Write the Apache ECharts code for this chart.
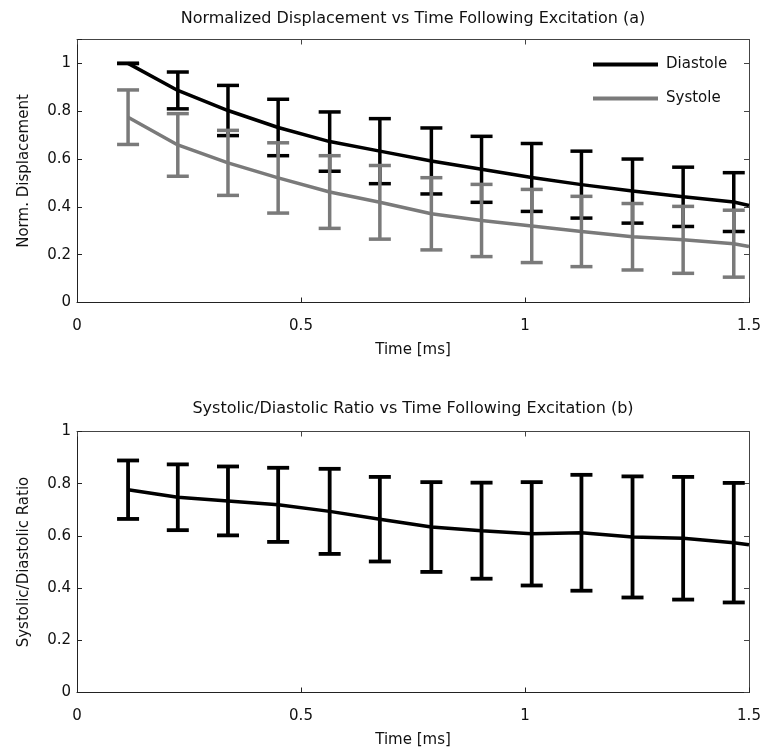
<!DOCTYPE html>
<html>
<head>
<meta charset="utf-8">
<title>Displacement vs time following excitation</title>
<script src="https://cdn.jsdelivr.net/npm/echarts@6/dist/echarts.min.js"></script>
<style>
  html, body { margin: 0; padding: 0; background: #fff; }
  #chart { width: 765px; height: 751px; }
</style>
</head>
<body>
<div id="chart"></div>
<script>
// Sample times (ms) at which displacement was measured
const time = [0.114, 0.225, 0.337, 0.449, 0.564, 0.676, 0.791, 0.903, 1.015, 1.126, 1.240, 1.353, 1.466];
// Trace values continue to the right edge of the axes
const edgeTime = 1.5;

// (a) normalized displacement, mean and standard deviation
const diastoleMean = [1.000, 0.887, 0.803, 0.732, 0.673, 0.633, 0.592, 0.557, 0.523, 0.493, 0.466, 0.442, 0.420];
const diastoleSd   = [0.000, 0.077, 0.105, 0.118, 0.124, 0.136, 0.138, 0.138, 0.142, 0.140, 0.134, 0.124, 0.123];
const diastoleEdge = 0.406;
const systoleMean  = [0.775, 0.659, 0.584, 0.521, 0.462, 0.419, 0.371, 0.343, 0.320, 0.297, 0.275, 0.262, 0.246];
const systoleSd    = [0.114, 0.131, 0.136, 0.147, 0.152, 0.154, 0.151, 0.151, 0.153, 0.147, 0.139, 0.140, 0.140];
const systoleEdge  = 0.234;

// (b) systolic / diastolic ratio, mean and standard deviation
const ratioMean = [0.777, 0.748, 0.734, 0.719, 0.694, 0.664, 0.634, 0.620, 0.608, 0.612, 0.596, 0.591, 0.574];
const ratioSd   = [0.112, 0.126, 0.132, 0.142, 0.163, 0.162, 0.172, 0.184, 0.198, 0.222, 0.232, 0.235, 0.229];
const ratioEdge = 0.566;

// Axis ticks
const xTicks = [0, 0.5, 1, 1.5];
const yTicks = [0, 0.2, 0.4, 0.6, 0.8, 1];

const FONT = 'DejaVu Sans';
const BLACK = '#000000';
const GRAY = '#7a7a7a';

function lineData(means, edge) {
  const d = time.map((t, i) => [t, means[i]]);
  d.push([edgeTime, edge]);
  return d;
}
function barData(means, sds) {
  return time.map((t, i) => [t, means[i] - sds[i], means[i] + sds[i]]);
}

// Vertical bar with horizontal caps at both ends
function errorBars(color, capHalf, width) {
  return function (params, api) {
    const x = api.value(0);
    const lo = api.coord([x, api.value(1)]);
    const hi = api.coord([x, api.value(2)]);
    const style = { stroke: color, lineWidth: width, lineCap: 'butt' };
    return {
      type: 'group',
      children: [
        { type: 'line', shape: { x1: hi[0], y1: hi[1], x2: lo[0], y2: lo[1] }, style: style },
        { type: 'line', shape: { x1: hi[0] - capHalf, y1: hi[1], x2: hi[0] + capHalf, y2: hi[1] }, style: style },
        { type: 'line', shape: { x1: lo[0] - capHalf, y1: lo[1], x2: lo[0] + capHalf, y2: lo[1] }, style: style }
      ]
    };
  };
}

const labelStyle = { fontFamily: FONT, fontSize: 15, color: '#111' };

function xAxes(gridIndex) {
  return [
    {
      type: 'value', gridIndex: gridIndex, position: 'bottom',
      min: 0, max: 1.5, interval: 0.5,
      name: 'Time [ms]', nameLocation: 'middle', nameGap: 40,
      nameTextStyle: labelStyle,
      axisLine: { show: true, onZero: false, lineStyle: { color: '#222', width: 1 } },
      axisTick: { show: true, inside: true, length: 5, lineStyle: { color: '#222' } },
      axisLabel: Object.assign({ margin: 16, formatter: v => xTicks.includes(v) ? String(v) : '' }, labelStyle),
      splitLine: { show: false }
    },
    {
      type: 'value', gridIndex: gridIndex, position: 'top',
      min: 0, max: 1.5, interval: 0.5,
      axisLine: { show: true, onZero: false, lineStyle: { color: '#444', width: 1 } },
      axisTick: { show: true, inside: true, length: 5, lineStyle: { color: '#444' } },
      axisLabel: { show: false },
      splitLine: { show: false }
    }
  ];
}

function yAxes(gridIndex, max, name) {
  return [
    {
      type: 'value', gridIndex: gridIndex, position: 'left',
      min: 0, max: max, interval: 0.2,
      name: name, nameLocation: 'middle', nameGap: 45,
      nameTextStyle: labelStyle,
      axisLine: { show: true, onZero: false, lineStyle: { color: '#222', width: 1 } },
      axisTick: { show: true, inside: true, length: 5, lineStyle: { color: '#222' } },
      axisLabel: Object.assign({
        margin: 6,
        formatter: v => {
          const r = Math.round(v * 10) / 10;
          return yTicks.some(t => Math.abs(t - v) < 1e-6) ? String(r) : '';
        }
      }, labelStyle),
      splitLine: { show: false }
    },
    {
      type: 'value', gridIndex: gridIndex, position: 'right',
      min: 0, max: max, interval: 0.2,
      axisLine: { show: true, onZero: false, lineStyle: { color: '#444', width: 1 } },
      axisTick: { show: true, inside: true, length: 5, lineStyle: { color: '#444' } },
      axisLabel: { show: false },
      splitLine: { show: false }
    }
  ];
}

const option = {
  backgroundColor: '#ffffff',
  animation: false,
  title: [
    {
      text: 'Normalized Displacement vs Time Following Excitation (a)',
      left: 413, top: 11, textAlign: 'center', padding: 0,
      textStyle: { fontFamily: FONT, fontSize: 16, fontWeight: 'normal', color: '#111' }
    },
    {
      text: 'Systolic/Diastolic Ratio vs Time Following Excitation (b)',
      left: 413, top: 401, textAlign: 'center', padding: 0,
      textStyle: { fontFamily: FONT, fontSize: 16, fontWeight: 'normal', color: '#111' }
    }
  ],
  legend: {
    orient: 'vertical',
    left: 593, top: 57,
    padding: 0,
    itemWidth: 65, itemHeight: 4, itemGap: 19,
    data: [
      { name: 'Diastole', icon: 'rect' },
      { name: 'Systole', icon: 'rect' }
    ],
    textStyle: { fontFamily: FONT, fontSize: 15, color: '#111', padding: [0, 0, 0, 3] }
  },
  grid: [
    { left: 77, right: 16, top: 39.5, height: 263 },
    { left: 77, right: 16, top: 431.5, height: 261 }
  ],
  xAxis: xAxes(0).concat(xAxes(1)),
  yAxis: yAxes(0, 1.1, 'Norm. Displacement').concat(yAxes(1, 1, 'Systolic/Diastolic Ratio')),
  series: [
    {
      name: 'Diastole error', type: 'custom', xAxisIndex: 0, yAxisIndex: 0,
      renderItem: errorBars(BLACK, 11, 3.5),
      encode: { x: 0, y: [1, 2] },
      data: barData(diastoleMean, diastoleSd), z: 2
    },
    {
      name: 'Diastole', type: 'line', xAxisIndex: 0, yAxisIndex: 0,
      data: lineData(diastoleMean, diastoleEdge),
      showSymbol: false, color: BLACK,
      lineStyle: { color: BLACK, width: 3.5 }, z: 3
    },
    {
      name: 'Systole error', type: 'custom', xAxisIndex: 0, yAxisIndex: 0,
      renderItem: errorBars(GRAY, 11, 3.5),
      encode: { x: 0, y: [1, 2] },
      data: barData(systoleMean, systoleSd), z: 4
    },
    {
      name: 'Systole', type: 'line', xAxisIndex: 0, yAxisIndex: 0,
      data: lineData(systoleMean, systoleEdge),
      showSymbol: false, color: GRAY,
      lineStyle: { color: GRAY, width: 3.5 }, z: 5
    },
    {
      name: 'Ratio error', type: 'custom', xAxisIndex: 2, yAxisIndex: 2,
      renderItem: errorBars(BLACK, 11, 3.8),
      encode: { x: 0, y: [1, 2] },
      data: barData(ratioMean, ratioSd), z: 2
    },
    {
      name: 'Ratio', type: 'line', xAxisIndex: 2, yAxisIndex: 2,
      data: lineData(ratioMean, ratioEdge),
      showSymbol: false, color: BLACK,
      lineStyle: { color: BLACK, width: 3.5 }, z: 3
    }
  ]
};

const chart = echarts.init(document.getElementById('chart'), null, { renderer: 'canvas' });
chart.setOption(option);
</script>
</body>
</html>
